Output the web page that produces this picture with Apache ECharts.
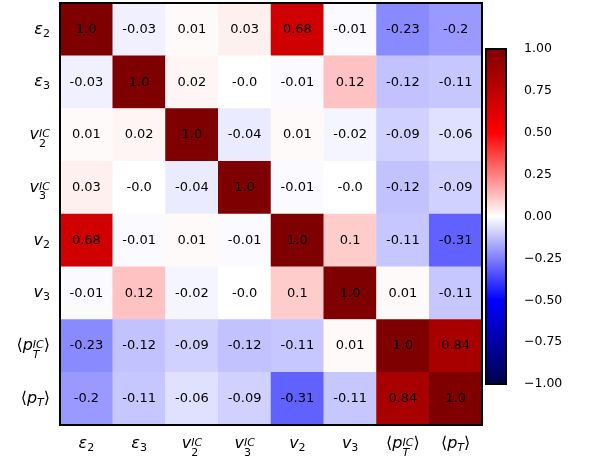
<!DOCTYPE html>
<html>
<head>
<meta charset="utf-8">
<script src="https://cdn.jsdelivr.net/npm/echarts@6/dist/echarts.min.js"></script>
<style>
  html, body { margin: 0; padding: 0; background: #fff; }
  #chart { width: 602px; height: 456px; }
</style>
</head>
<body>
<div id="chart"></div>
<script>
// Variable names, written as rich-text markup (main symbol, subscript, superscript)
const variables = [
  '{m|ε}{sb|2}',
  '{m|ε}{sb|3}',
  '{m|v}{ss|2}{sp|IC}',
  '{m|v}{ss|3}{sp|IC}',
  '{m|v}{sb|2}',
  '{m|v}{sb|3}',
  '{br|⟨}{m|p}{ssi|T}{sp|IC}{br|⟩}',
  '{br|⟨}{m|p}{sbi|T}{br|⟩}'
];

// Correlation coefficients, one row per variable (same order as above)
const rowEps2   = [1.0, -0.03, 0.01, 0.03, 0.68, -0.01, -0.23, -0.2];
const rowEps3   = [-0.03, 1.0, 0.02, -0.0, -0.01, 0.12, -0.12, -0.11];
const rowV2IC   = [0.01, 0.02, 1.0, -0.04, 0.01, -0.02, -0.09, -0.06];
const rowV3IC   = [0.03, -0.0, -0.04, 1.0, -0.01, -0.0, -0.12, -0.09];
const rowV2     = [0.68, -0.01, 0.01, -0.01, 1.0, 0.1, -0.11, -0.31];
const rowV3     = [-0.01, 0.12, -0.02, -0.0, 0.1, 1.0, 0.01, -0.11];
const rowPTIC   = [-0.23, -0.12, -0.09, -0.12, -0.11, 0.01, 1.0, 0.84];
const rowPT     = [-0.2, -0.11, -0.06, -0.09, -0.31, -0.11, 0.84, 1.0];
const rows = [rowEps2, rowEps3, rowV2IC, rowV3IC, rowV2, rowV3, rowPTIC, rowPT];

// Colour bar range and tick step
const cbarMin = -1;
const cbarMax = 1;
const cbarStep = 0.25;

// "seismic" diverging palette
const seismic = ['#00004c', '#0000ff', '#ffffff', '#ff0000', '#7f0000'];

function cellText(v) {
  if (Object.is(v, -0)) return '-0.0';
  if (Number.isInteger(v)) return v.toFixed(1);
  return String(v);
}

const cells = [];
rows.forEach((row, y) => row.forEach((v, x) => cells.push([x, y, v])));

const FONT = 'DejaVu Sans';
// every fragment is laid out left to right; the zero-width subscripts let
// a superscript sit directly above them
const rich = {
  m:   { align: 'left', fontFamily: FONT, fontStyle: 'italic', fontSize: 16, lineHeight: 30, color: '#000' },
  br:  { align: 'left', fontFamily: FONT, fontSize: 16, lineHeight: 30, color: '#000' },
  sb:  { align: 'left', fontFamily: FONT, fontSize: 11, lineHeight: 12, padding: [9, 0, 0, 0], color: '#000' },
  sbi: { align: 'left', fontFamily: FONT, fontStyle: 'italic', fontSize: 11, lineHeight: 12, padding: [9, 0, 0, 0], color: '#000' },
  ss:  { align: 'left', fontFamily: FONT, fontSize: 11, lineHeight: 12, padding: [18, 0, 0, 0], width: 0.001, color: '#000' },
  ssi: { align: 'left', fontFamily: FONT, fontStyle: 'italic', fontSize: 11, lineHeight: 12, padding: [18, 0, 0, 0], width: 0.001, color: '#000' },
  sp:  { align: 'left', fontFamily: FONT, fontStyle: 'italic', fontSize: 11, lineHeight: 12, padding: [0, 0, 1, 0], color: '#000' }
};

const chart = echarts.init(document.getElementById('chart'), null, { renderer: 'canvas' });

chart.setOption({
  animation: false,
  backgroundColor: '#fff',
  grid: [
    { left: 60, top: 3, width: 422, height: 422, outerBoundsMode: 'none', containLabel: false,
      show: true, borderColor: '#000', borderWidth: 2, backgroundColor: 'transparent', z: 10 },
    { left: 486, top: 49, width: 20, height: 335, outerBoundsMode: 'none', containLabel: false,
      show: true, borderColor: '#000', borderWidth: 2, backgroundColor: 'transparent', z: 10 }
  ],
  xAxis: [
    {
      gridIndex: 0, type: 'category', data: variables, position: 'bottom',
      axisLine: { show: false }, axisTick: { show: false },
      splitLine: { show: false }, splitArea: { show: false },
      axisLabel: { interval: 0, margin: 4, rich: rich, color: '#000' }
    },
    { gridIndex: 1, type: 'value', show: false, min: 0, max: 1 }
  ],
  yAxis: [
    {
      gridIndex: 0, type: 'category', data: variables, inverse: true,
      axisLine: { show: false }, axisTick: { show: false },
      splitLine: { show: false }, splitArea: { show: false },
      axisLabel: { interval: 0, margin: 10, rich: rich, color: '#000' }
    },
    {
      gridIndex: 1, type: 'value', position: 'right',
      min: cbarMin, max: cbarMax, interval: cbarStep,
      axisLine: { show: false },
      axisTick: { show: true, inside: false, length: 7, lineStyle: { color: '#000', width: 2 } },
      splitLine: { show: false },
      axisLabel: {
        margin: 18, fontFamily: FONT, fontSize: 12.5, color: '#000',
        formatter: v => (v < 0 ? '\u2212' : '') + Math.abs(v).toFixed(2)
      }
    }
  ],
  visualMap: {
    type: 'continuous',
    seriesIndex: 0,
    min: cbarMin, max: cbarMax,
    calculable: false, hoverLink: false,
    orient: 'vertical',
    left: 486, top: 49,
    itemWidth: 20, itemHeight: 335,
    padding: 0,
    inRange: { color: seismic },
    z: 4
  },
  series: [{
    type: 'heatmap',
    xAxisIndex: 0, yAxisIndex: 0,
    data: cells,
    label: {
      show: true,
      fontFamily: FONT, fontSize: 13, color: '#000',
      formatter: p => cellText(rows[p.data[1]][p.data[0]])
    },
    itemStyle: { borderWidth: 0 },
    emphasis: { disabled: true }
  }]
});
</script>
</body>
</html>
